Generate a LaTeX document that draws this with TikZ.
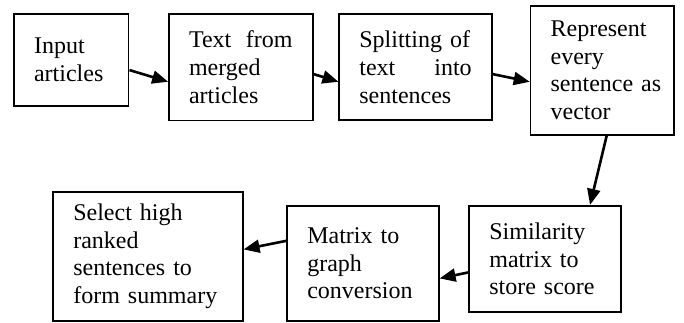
\documentclass[tikz,border=0pt]{standalone}
\usepackage{fontspec}
\setmainfont{Liberation Serif}
\usetikzlibrary{arrows.meta}
\tikzset{
  stepbox/.style={draw, line width=0.9pt, align=left, inner xsep=10pt,
    font=\fontsize{12}{13.8}\selectfont},
  flecha/.style={line width=1.3pt, -{Triangle[length=8pt,width=6.5pt]}}
}
\begin{document}
\begin{tikzpicture}
    \useasboundingbox (0,0) rectangle (12.02,5.66);

    % Cajas
    \node[stepbox, text width=1.31cm, minimum height=1.61cm] (input) at (1.253,4.608) {Input\\articles};
    \node[stepbox, text width=1.82cm, minimum height=1.87cm] (merged) at (4.232,4.478) {Text\hfill from\\merged\\articles};
    \node[stepbox, text width=1.975cm, minimum height=1.863cm] (split) at (7.302,4.481) {Splitting of\\text\hfill into\\sentences};
    \node[stepbox, text width=1.817cm, minimum height=2.267cm] (vector) at (10.584,4.425) {Represent\\every\\sentence~as\\vector};
    \node[stepbox, text width=1.968cm, minimum height=1.873cm] (simil) at (9.583,1.107) {Similarity\\matrix to\\store score};
    \node[stepbox, text width=1.958cm, minimum height=2.021cm] (graph) at (6.379,1.033) {Matrix to\\graph\\conversion};
    \node[stepbox, text width=2.625cm, minimum height=2.267cm] (summary) at (2.601,1.156) {Select high\\ranked\\sentences to\\form summary};

    % Flechas
    \draw[flecha] ([yshift=-5.1pt]input.east) -- ([yshift=-7.25pt]merged.west);
    \draw[flecha] ([yshift=-3.4pt]merged.east) -- ([yshift=-7.35pt]split.west);
    \draw[flecha] ([yshift=-3.5pt]split.east) -- ([yshift=-5.75pt]vector.west);
    \draw[flecha] ([xshift=2.2pt]vector.south) -- ([xshift=22.35pt]simil.north);
    \draw[flecha] ([yshift=-6.65pt]simil.west) -- ([yshift=-7.55pt]graph.east);
    \draw[flecha] ([yshift=11.25pt]graph.west) -- ([yshift=3.45pt]summary.east);
\end{tikzpicture}
\end{document}
